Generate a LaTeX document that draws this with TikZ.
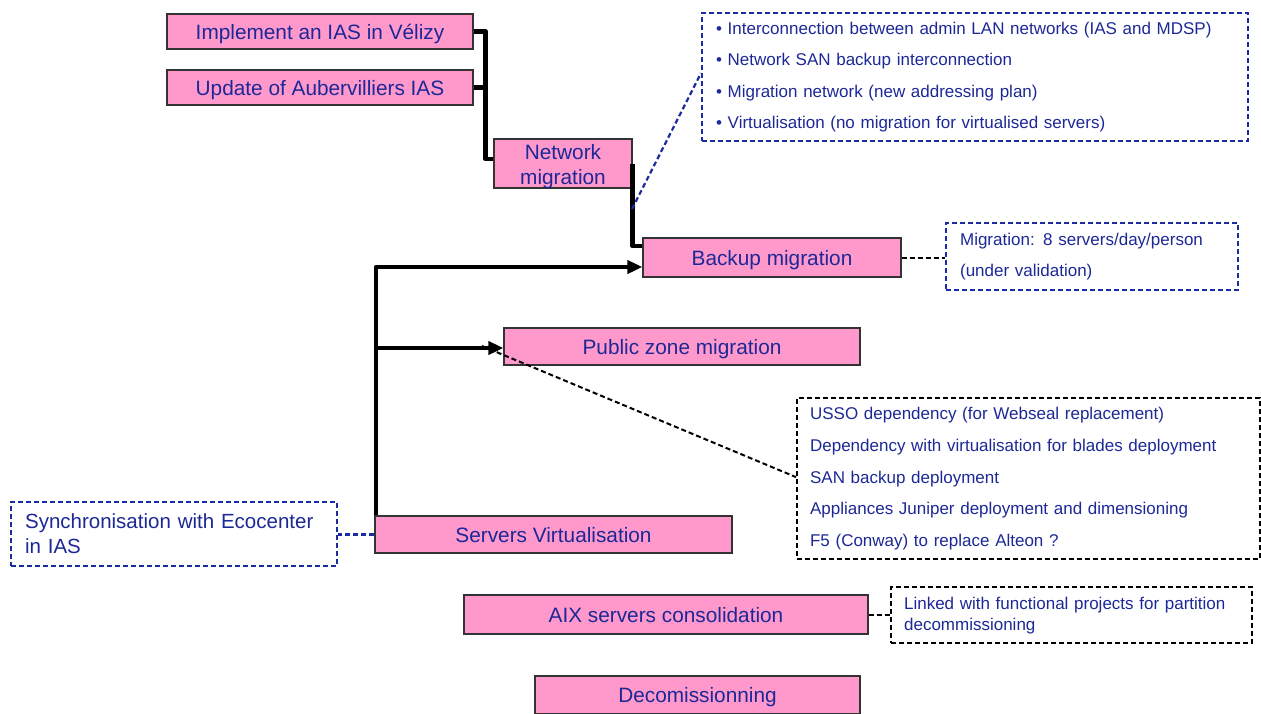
\documentclass[tikz,border=0pt]{standalone}
\usepackage{fontspec}
\setmainfont{Liberation Sans}
\usetikzlibrary{arrows.meta,positioning,calc}
\definecolor{pinkbox}{RGB}{255,153,204}
\definecolor{navytext}{RGB}{28,40,150}
\definecolor{navyline}{RGB}{25,45,160}
\tikzset{
	task/.style={draw=black!80, line width=1.2pt, fill=pinkbox, text=navytext, inner sep=0pt, align=center, text height=15pt, text depth=0pt, font=\fontsize{20.8}{25}\selectfont},
	note/.style={line width=2.2pt, dash pattern=on 5pt off 3pt, text=navytext, inner xsep=14pt, inner ysep=0pt, align=left, anchor=north west},
	bluenote/.style={note, draw=navyline},
	blacknote/.style={note, draw=black},
	link/.style={line width=4.5pt, line join=round},
	flow/.style={link, -{Triangle[length=15pt,width=13pt]}},
	bluedash/.style={draw=navyline, line width=2.2pt, dash pattern=on 5pt off 3pt},
	blackdash/.style={draw=black, line width=2pt, dash pattern=on 5pt off 3pt},
}

\begin{document}
\begin{tikzpicture}[x=1pt, y=-1pt]
		\useasboundingbox (0,0) rectangle (1261,713);
		\clip (0,0) rectangle (1261,713);

		% migration tasks
		\node[task, minimum width=306pt, minimum height=35pt] (velizy) at (320,31.5) {Implement an IAS in Vélizy};
		\node[task, minimum width=306pt, minimum height=35pt] (auber) at (320,87.5) {Update of Aubervilliers IAS};
		\node[task, minimum width=138pt, minimum height=49pt, text height=42pt] (netmig) at (563,163.5) {Network\\migration};
		\node[task, minimum width=258pt, minimum height=39pt] (backup) at (772,257.5) {Backup migration};
		\node[task, minimum width=356pt, minimum height=37pt] (public) at (682,346.5) {Public zone migration};
		\node[task, minimum width=357pt, minimum height=37pt] (servers) at (553.5,534.5) {Servers Virtualisation};
		\node[task, minimum width=404pt, minimum height=39pt] (aix) at (666,614.5) {AIX servers consolidation};
		\node[task, minimum width=325pt, minimum height=38pt] (decom) at (697.5,695) {Decomissionning};

		% remarks
		\node[bluenote, minimum width=546pt, minimum height=128pt, text width=518pt, font=\fontsize{17}{31.3}\selectfont] (netnote) at (701,12) {• Interconnection between admin LAN networks (IAS and MDSP)\\• Network SAN backup interconnection\\• Migration network (new addressing plan)\\• Virtualisation (no migration for virtualised servers)};
		\node[bluenote, minimum width=292pt, minimum height=67pt, text width=264pt, font=\fontsize{17}{31}\selectfont] (backnote) at (945,222) {Migration: 8 servers/day/person\\(under validation)};
		\node[blacknote, minimum width=463pt, minimum height=161pt, text width=437pt, inner xsep=13pt, font=\fontsize{17}{31.75}\selectfont] (pznote) at (796,397) {USSO dependency (for Webseal replacement)\\Dependency with virtualisation for blades deployment\\SAN backup deployment\\Appliances Juniper deployment and dimensioning\\F5 (Conway) to replace Alteon ?};
		\node[bluenote, minimum width=326pt, minimum height=64pt, text width=298pt, font=\fontsize{20.5}{25}\selectfont] (syncnote) at (10,501) {Synchronisation with Ecocenter\\in IAS};
		\node[blacknote, minimum width=361pt, minimum height=56pt, text width=335pt, inner xsep=13pt, font=\fontsize{17}{21}\selectfont] (aixnote) at (890,586) {Linked with functional projects for partition\\decommissioning};

		% dependencies
		\draw[link] (velizy.east) -- ++(12,0) coordinate (jtop) |- ([yshift=4.5pt]netmig.west);
		\draw[link] (auber.east) -- (auber.east -| jtop);
		\draw[link] (netmig.east) |- ([yshift=11.5pt]backup.west);
		\draw[flow] ([xshift=1.5pt]servers.north west) |- ([yshift=-9.5pt]backup.west);
		\draw[flow] ([xshift=1.5pt]servers.north west) |- ([yshift=-1.5pt]public.west);

		% remark links
		\coordinate (netpoint) at (632,209);
		\coordinate (publictip) at (482,346);
		\draw[bluedash] (netpoint) -- ([yshift=4pt]netnote.west);
		\draw[blackdash] (backup.east) -- (backup.east -| backnote.west);
		\draw[blackdash] (publictip) -- ([yshift=1.5pt]pznote.west);
		\draw[bluedash] (servers.west) -- (servers.west -| syncnote.east);
		\draw[blackdash] (aix.east) -- (aix.east -| aixnote.west);
	\end{tikzpicture}
\end{document}
